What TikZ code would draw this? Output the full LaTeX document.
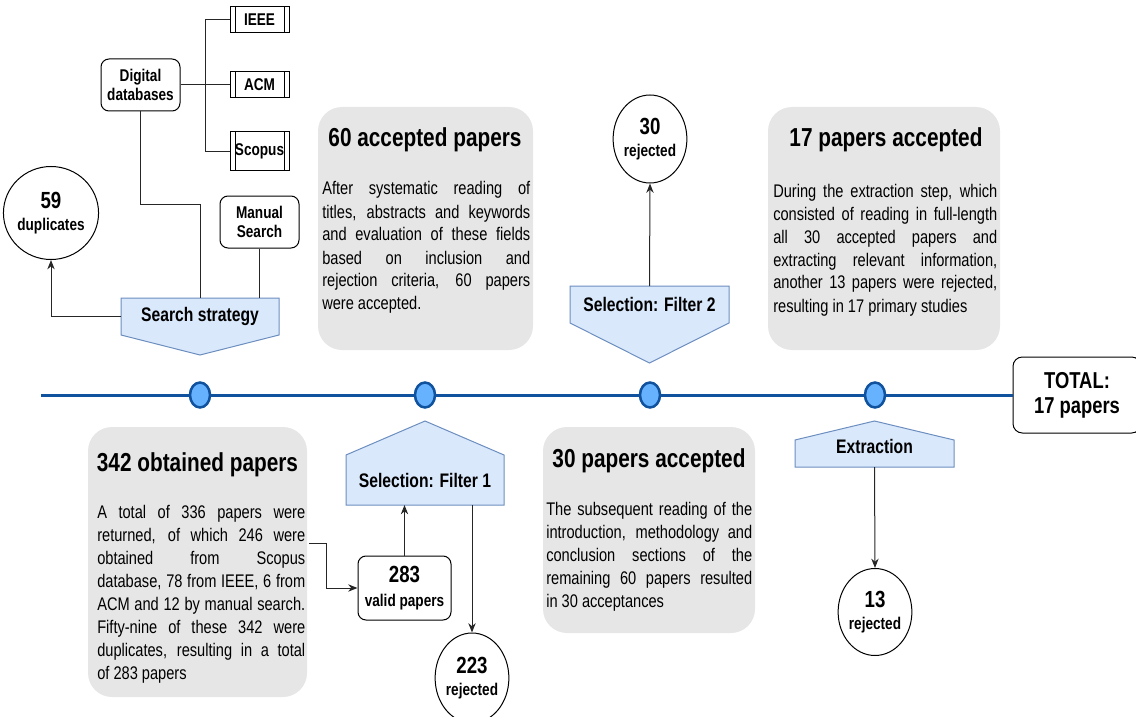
\documentclass[tikz,border=0pt]{standalone}
\usepackage{fontspec}
\setmainfont{Liberation Sans}[FakeStretch=0.8]
\usetikzlibrary{positioning,arrows.meta,shapes.geometric,fit,backgrounds}
\definecolor{linecolor}{RGB}{16,82,158}
\definecolor{dotcolor}{RGB}{102,178,255}
\definecolor{stagefill}{RGB}{218,232,252}
\definecolor{stageline}{RGB}{108,142,191}
\definecolor{panelgray}{RGB}{230,230,230}
\newcommand{\titlesize}{\fontsize{19.5}{23}\selectfont}
\newcommand{\bodysize}{\fontsize{13.7}{17.25}\selectfont}
\newcommand{\stagesize}{\fontsize{14.7}{17}\selectfont}
\newcommand{\labelsize}{\fontsize{12.75}{14.25}\selectfont}
\newcommand{\numsize}{\fontsize{17.5}{19}\selectfont}
\newcommand{\totalsize}{\fontsize{17.25}{18.75}\selectfont}

\begin{document}
\begin{tikzpicture}[
  x=0.75pt, y=-0.75pt,
  panel/.style={rectangle, fill=panelgray, rounded corners=18pt, inner sep=0pt},
  ptitle/.style={font=\bfseries\titlesize, anchor=base},
  ptext/.style={font=\bodysize, text width=#1, align=justify, anchor=base west, inner sep=0pt},
  stage/.style={rectangle, font=\bfseries\stagesize, inner sep=0pt, outer sep=0pt},
  stageshape/.style={fill=stagefill, draw=stageline, line width=0.75pt},
  box/.style={rectangle, draw, rounded corners=6pt, fill=white, align=center, font=\bfseries\labelsize, line width=0.75pt},
  db/.style={rectangle, draw, fill=white, font=\bfseries\labelsize, minimum width=44.25pt, inner sep=0pt, line width=0.75pt,
    path picture={
      \draw[line width=0.75pt] ([xshift=3.75pt]path picture bounding box.north west) -- ([xshift=3.75pt]path picture bounding box.south west);
      \draw[line width=0.75pt] ([xshift=-3.75pt]path picture bounding box.north east) -- ([xshift=-3.75pt]path picture bounding box.south east);}},
  oval/.style={ellipse, draw, fill=white, align=center, font=\bfseries, inner sep=0pt, line width=0.75pt},
  dot/.style={ellipse, draw=linecolor, fill=dotcolor, line width=1.9pt, minimum width=15pt, minimum height=18.75pt, inner sep=0pt},
  link/.style={draw=black!85, line width=0.75pt},
  arrow/.style={link, -{Stealth[length=7pt,width=5.5pt]}},
  timeline/.style={draw=linecolor, line width=2.25pt}
]
  \useasboundingbox (0,0) rectangle (1136,717);

  % Search step
  \node[stage, minimum width=118.5pt, minimum height=27.75pt] (search) at (200,316.5) {Search strategy};
  \node[box, minimum width=59.25pt, minimum height=39pt] (digital) at (140.5,85) {Digital\\databases};
  \node[db, minimum height=19.5pt] (ieee) at (259.5,20) {IEEE};
  \node[db, minimum height=19.5pt] (acm) at (259.5,85) {ACM};
  \node[db, minimum height=28.5pt] (scopus) at (259.5,151) {Scopus};
  \node[box, minimum width=59.25pt, minimum height=39pt] (manual) at (259.5,222) {Manual\\Search};
  \node[oval, minimum width=58.5pt, minimum height=69.75pt] (dup) at (51,213) {\numsize 59\\[4pt]\labelsize duplicates};

  % Filter 1
  \node[panel, fit={(318,107) (533,350)}] (p60) {};
  \node[ptitle] (t60) at (425,146.3) {60 accepted papers};
  \node[ptext=156pt] (b60) at (322,195) {After systematic reading of\linebreak
    titles, abstracts and keywords\linebreak
    and evaluation of these fields\linebreak
    based on inclusion and\linebreak
    rejection criteria, 60 papers\linebreak
    were accepted.};

  % Filter 2
  \node[stage, minimum width=119.25pt, minimum height=27.75pt] (filter2) at (649.5,304.5) {Selection: Filter 2};
  \node[oval, minimum width=50.25pt, minimum height=66pt] (rej30) at (650,139) {\numsize 30\\[4pt]\labelsize rejected};

  % Extraction result
  \node[panel, fit={(768,107) (1000,350)}] (p17) {};
  \node[ptitle] (t17) at (886,146.3) {17 papers accepted};
  \node[ptext=168pt] (b17) at (773,197) {During the extraction step, which\linebreak
    consisted of reading in full-length\linebreak
    all 30 accepted papers and\linebreak
    extracting relevant information,\linebreak
    another 13 papers were rejected,\linebreak
    resulting in 17 primary studies};

  % Timeline
  \coordinate (tstart) at (41,395);
  \node[dot] (m1) at (200,395) {};
  \node[dot] (m2) at (425,395) {};
  \node[dot] (m3) at (650,395) {};
  \node[dot] (m4) at (875,395) {};
  \node[box, rounded corners=7pt, minimum width=96pt, minimum height=57pt, font=\bfseries\totalsize] (total) at (1077,395) {TOTAL:\\17 papers};
  \draw[timeline] (tstart) -- (m1) -- (m2) -- (m3) -- (m4) -- (total);

  % Obtained papers
  \node[panel, fit={(88,427) (307,697)}] (p342) {};
  \node[ptitle] (t342) at (197.5,471.3) {342 obtained papers};
  \node[ptext=156pt] (b342) at (97,518) {A total of 336 papers were\linebreak
    returned, of which 246 were\linebreak
    obtained from Scopus\linebreak
    database, 78 from IEEE, 6 from\linebreak
    ACM and 12 by manual search.\linebreak
    Fifty-nine of these 342 were\linebreak
    duplicates, resulting in a total\linebreak
    of 283 papers};
  \node[stage, minimum width=118.5pt, minimum height=37.5pt] (filter1) at (425,480) {Selection: Filter 1};
  \node[box, minimum width=69.75pt, minimum height=48pt] (valid) at (404.5,588) {\numsize 283\\[4pt]\labelsize valid papers};
  \node[oval, minimum width=50.25pt, minimum height=67.5pt] (rej223) at (472,678) {\numsize 223\\[4pt]\labelsize rejected};

  % 30 accepted
  \node[panel, fit={(543,427) (755,633)}] (p30) {};
  \node[ptitle] (t30) at (649,467.3) {30 papers accepted};
  \node[ptext=154.5pt] (b30) at (546,515) {The subsequent reading of the\linebreak
    introduction, methodology and\linebreak
    conclusion sections of the\linebreak
    remaining 60 papers resulted\linebreak
    in 30 acceptances};

  % Extraction
  \node[stage, minimum width=119.25pt, minimum height=20.25pt,
    label={[font=\bfseries\stagesize, yshift=5.6pt]center:Extraction}] (extract) at (874.5,453.5) {};
  \node[oval, minimum width=48.75pt, minimum height=65.25pt] (rej13) at (875,612) {\numsize 13\\[4pt]\labelsize rejected};

  % Stage shapes
  \begin{scope}[on background layer]
    \draw[stageshape] (search.north west) -- (search.north east) -- (search.south east) -- ([yshift=-15pt]search.south) -- (search.south west) -- cycle;
    \draw[stageshape] (filter2.north west) -- (filter2.north east) -- (filter2.south east) -- ([yshift=-30pt]filter2.south) -- (filter2.south west) -- cycle;
    \draw[stageshape] (filter1.south west) -- (filter1.north west) -- ([yshift=25.5pt]filter1.north) -- (filter1.north east) -- (filter1.south east) -- cycle;
    \draw[stageshape] (extract.south west) -- (extract.north west) -- ([yshift=14.25pt]extract.north) -- (extract.north east) -- (extract.south east) -- cycle;
  \end{scope}

  % Connectors
  \draw[link] (digital.east) -- ++(25,0) coordinate (fork) |- (ieee.west);
  \draw[link] (fork) -- (acm.west);
  \draw[link] (fork) |- (scopus.west);
  \draw[link] (digital.south) -- ++(0,93) -| (search.north);
  \draw[link] (manual.south) -- (manual.south |- search.north);
  \draw[arrow] (search.west) -| (dup.south);
  \draw[arrow] (filter2.north) -- (rej30.south);
  \draw[arrow] ([xshift=1.5pt,yshift=14.25pt]p342.east) -- ++(17,0) |- (valid.west);
  \draw[arrow] (valid.north) -- (valid.north |- filter1.south);
  \draw[arrow] (rej223.north |- filter1.south) -- (rej223.north);
  \draw[arrow] (extract.south) -- (rej13.north);

\end{tikzpicture}
\end{document}
